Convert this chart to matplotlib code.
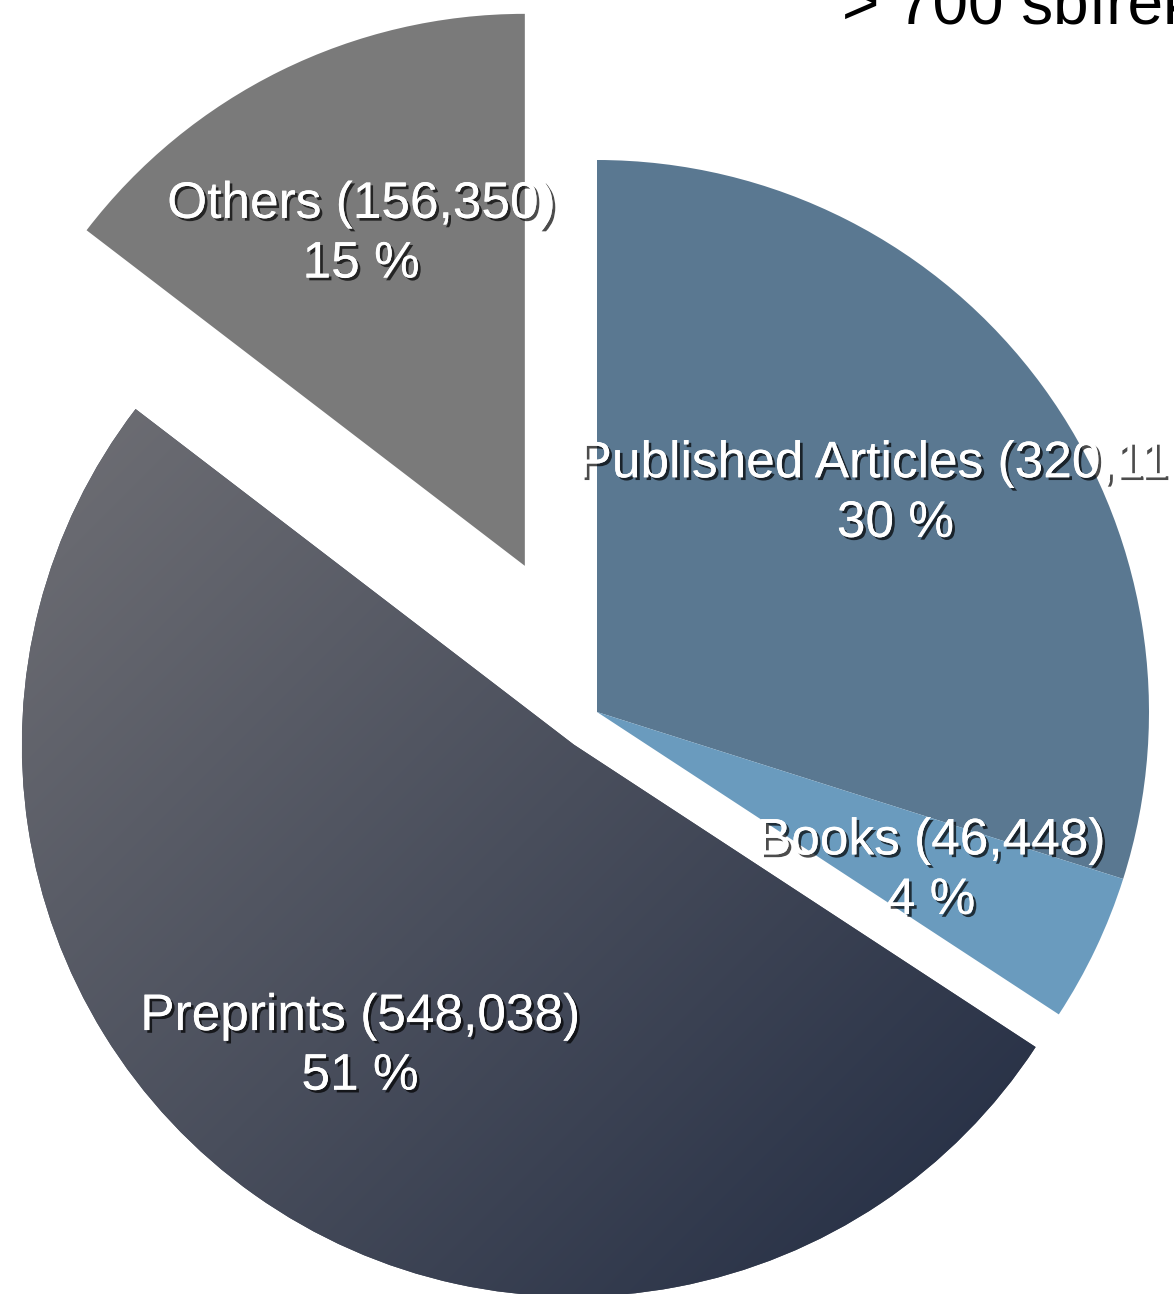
import numpy as np
import matplotlib
matplotlib.use('Agg')
import matplotlib.pyplot as plt
import matplotlib.patheffects as pe

# data
categories = ['Published Articles', 'Books', 'Preprints', 'Others']
counts = [320110, 46448, 548038, 156350]
explode_px = [0, 0, 40, 163]
colors = ['#5a7891', '#6a9bbe', '#4a4f5c', '#7a7a7a']

W, H = 1174, 1294
radius = 552
center = (597, H - 712)

plt.rcParams['font.family'] = ['Liberation Sans', 'DejaVu Sans']

fig = plt.figure(figsize=(W / 100.0, H / 100.0), dpi=100)
ax = fig.add_axes([0, 0, 1, 1])

total = float(sum(counts))
labels = ['%s (%s)\n%d %%' % (c, format(n, ','), round(100.0 * n / total))
          for c, n in zip(categories, counts)]

wedges, texts = ax.pie(counts, explode=explode_px, colors=colors, labels=labels,
                       labeldistance=0.67, startangle=90, counterclock=False,
                       radius=radius, center=center,
                       wedgeprops=dict(linewidth=0),
                       textprops=dict(color='white', fontsize=37))

# gradient fill for the preprints slice
yy, xx = np.mgrid[0:H, 0:W]
t = ((xx - 20.0) + (yy - 400.0)) / ((1035 - 20.0) + (1290 - 400.0))
t = np.clip(t, 0, 1)[..., None]
c0 = np.array([0.44, 0.44, 0.46])
c1 = np.array([0.13, 0.17, 0.26])
img = c0 + (c1 - c0) * t
im = ax.imshow(img, extent=(0, W, 0, H), origin='upper', zorder=1.5)
im.set_clip_path(wedges[2])

shadow = [pe.withSimplePatchShadow(offset=(2, -2), shadow_rgbFace='black', alpha=0.7),
          pe.Normal()]
for txt in texts:
    txt.set_ha('center')
    txt.set_va('center')
    txt.set_linespacing(1.28)
    txt.set_zorder(5)
    txt.set_path_effects(shadow)

ax.set_xlim(0, W)
ax.set_ylim(0, H)
ax.set_aspect('equal')
ax.axis('off')

fig.text(842.0 / W, 1 - 23.0 / H, '> 700 sbírek', fontsize=46, va='baseline',
         ha='left', color='black')

fig.savefig('out.png', dpi=100)
